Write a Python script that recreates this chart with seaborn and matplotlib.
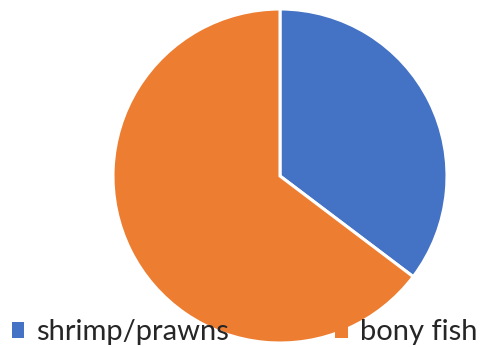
import matplotlib
matplotlib.use("Agg")
import matplotlib.pyplot as plt
import seaborn as sns
from matplotlib.patches import Patch

categories = ["shrimp/prawns", "bony fish"]
shares = [35.3, 64.7]
colors = ["#4472C4", "#ED7D31"]

sns.set_theme(style="white")
plt.rcParams["font.family"] = ["Lato", "DejaVu Sans"]

W, H = 482, 347
fig = plt.figure(figsize=(W / 100, H / 100), dpi=100)

cx, cy, r = 280, 176, 167
ax = fig.add_axes([(cx - r) / W, 1 - (cy + r) / H, 2 * r / W, 2 * r / H])
ax.pie(shares, colors=colors, startangle=90, counterclock=False, radius=1,
       wedgeprops=dict(edgecolor="white", linewidth=2.2))
ax.set_xlim(-1, 1)
ax.set_ylim(-1, 1)
ax.set_aspect("equal")
ax.axis("off")

handles = [Patch(facecolor=c, edgecolor="none") for c in colors]
fig.legend(handles, categories, loc="lower left", bbox_to_anchor=(-0.012, -0.046),
           ncol=2, frameon=False, fontsize=21, handlelength=0.43, handleheight=0.43,
           handletextpad=0.42, columnspacing=3.62, borderaxespad=0.2)

fig.savefig("out.png", dpi=100, facecolor="white")
